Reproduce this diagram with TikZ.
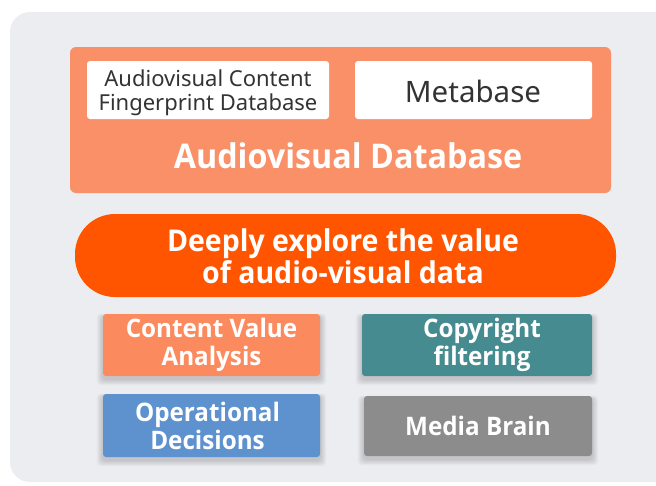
\documentclass[tikz,border=0pt]{standalone}
\usepackage{fontspec}
\setmainfont{Noto Sans}
\newfontfamily\heavyfont{Open Sans}[FakeStretch=0.95]
\newcommand{\heavy}{\heavyfont\bfseries}
\definecolor{panelgray}{HTML}{ECEDF1}
\definecolor{dbsalmon}{HTML}{FA9068}
\definecolor{pillred}{HTML}{FF5500}
\definecolor{cvorange}{HTML}{FB8A5E}
\definecolor{cpteal}{HTML}{468B8F}
\definecolor{opblue}{HTML}{5E92CF}
\definecolor{mbgray}{HTML}{8C8C8C}
\definecolor{txtdark}{HTML}{333333}
\tikzset{
  tile/.style={rounded corners=3pt, inner sep=0pt},
  tilelabel/.style={text=white, align=center, inner sep=0pt,
    font=\heavy\fontsize{25.5}{28}\selectfont},
}
% soft shadow under a tile: stacked translucent rounded rectangles
\newcommand{\softshadow}[4]{%
  \foreach \s in {1,...,7}{
    \fill[black, opacity=0.022, rounded corners=4pt]
      (#1-\s*0.9,#2-\s*0.5+3) rectangle (#3+\s*0.9,#4+\s*0.9+3);
  }}
\begin{document}
\begin{tikzpicture}[x=1pt,y=-1pt]
\useasboundingbox (0,0) rectangle (656,485);
\clip (0,0) rectangle (656,485);
% background panel
\fill[panelgray, rounded corners=20pt] (10,12) rectangle (690,482);
% audiovisual database block
\fill[dbsalmon, rounded corners=6pt] (70,47) rectangle (611,193);
\fill[white, rounded corners=3pt] (87,61) rectangle (329,119);
\fill[white, rounded corners=3pt] (355,61) rectangle (592,119);
\node[text=txtdark, align=center, font=\fontsize{22}{24}\selectfont] (fpdb) at (208,93)
  {Audiovisual Content\\Fingerprint Database};
\node[text=txtdark, font=\fontsize{29.5}{32}\selectfont] (meta) at (473,91) {Metabase};
\node[text=white, font=\heavy\fontsize{34}{36}\selectfont] (avdb) at (348,156) {Audiovisual Database};
% value exploration pill
\fill[pillred, rounded corners=40pt] (75,214) rectangle (616,297);
\node[text=white, align=center, font=\heavy\fontsize{30}{32}\selectfont] (explore) at (343,256)
  {Deeply explore the value\\of audio-visual data};
% application tiles
\softshadow{103}{314}{320}{376}
\softshadow{362}{314}{592}{376}
\softshadow{103}{394}{320}{457}
\softshadow{364}{396}{592}{456}
\node[tile, fill=cvorange, minimum width=217pt, minimum height=62pt] (cva) at (211.5,345) {};
\node[tile, fill=cpteal, minimum width=230pt, minimum height=62pt] (cpf) at (477,345) {};
\node[tile, fill=opblue, minimum width=217pt, minimum height=63pt] (opd) at (211.5,425.5) {};
\node[tile, fill=mbgray, minimum width=228pt, minimum height=60pt] (mb) at (478,426) {};
\node[tilelabel] (cvat) at ([xshift=0pt]cva.center) {Content Value\\Analysis};
\node[tilelabel] (cpft) at ([xshift=5pt]cpf.center) {Copyright\\filtering};
\node[tilelabel] (opdt) at ([xshift=-4pt]opd.center) {Operational\\Decisions};
\node[tilelabel] (mbt) at (mb.center) {Media Brain};
\end{tikzpicture}
\end{document}
